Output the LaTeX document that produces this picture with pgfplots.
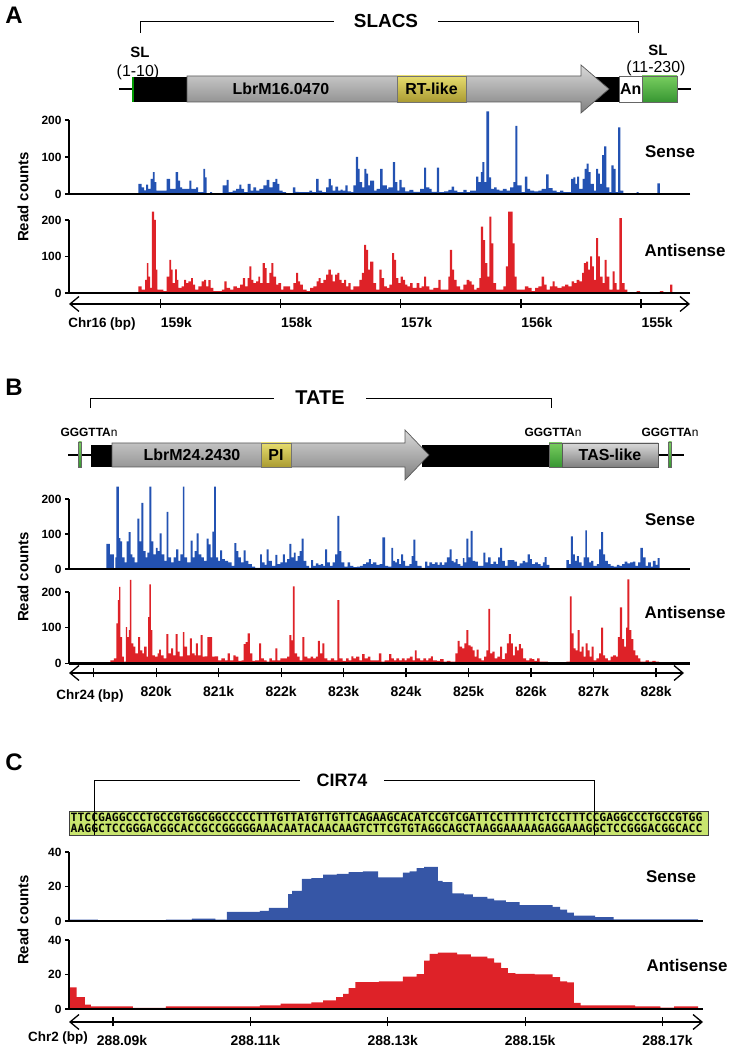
\documentclass[border=0pt]{standalone}
\usepackage{fontspec}
\setmainfont{Liberation Sans}
\newfontfamily\seqfont{DejaVu Sans Mono}
\usepackage{pgfplots}
\pgfplotsset{compat=1.18}
\usetikzlibrary{arrows.meta}
\definecolor{blueA}{RGB}{35,82,178}
\definecolor{blueC}{RGB}{54,86,166}
\definecolor{redA}{RGB}{222,34,40}
\definecolor{grnA}{RGB}{120,205,95}
\definecolor{grnB}{RGB}{55,150,50}
\definecolor{yelA}{RGB}{230,220,110}
\definecolor{yelB}{RGB}{170,155,50}
\definecolor{seqg}{RGB}{200,228,110}
\newcommand\fs[1]{\fontsize{#1}{#1}\selectfont}
\pgfplotsset{
 dataax/.style={scale only axis, width=621bp, clip=false, axis on top, ymin=0,
   axis x line=bottom, axis y line=left, axis line style={-},
   x axis line style={line width=2.4bp}, y axis line style={line width=1.2bp},
   xtick=\empty, tick align=outside, major tick length=4bp,
   ytick style={line width=1.2bp, black},
   yticklabel style={font=\bfseries\fs{12}},
   /pgf/number format/assume math mode=true},
 ruler/.style={scale only axis, height=1bp, ymin=0, ymax=1, hide y axis, clip=false,
   axis x line=bottom,
   x axis line style={line width=1.3bp, {Straight Barb[length=9bp,width=15bp,line width=1.3bp]}-{Straight Barb[length=9bp,width=15bp,line width=1.3bp]}},
   tick align=center, major tick length=9bp, xtick style={line width=1.2bp, black},
   xticklabel style={font=\bfseries\fs{14}, yshift=-5bp}},
}
\tikzset{
 garrow/.style={draw=black!65, line width=0.7bp, top color=black!15, bottom color=black!50},
 gbox/.style={draw=black!60, line width=0.7bp, top color=grnA, bottom color=grnB},
 ybox/.style={draw=black!55, line width=0.7bp, top color=yelA, bottom color=yelB},
}
\begin{document}
\begin{tikzpicture}[x=1bp,y=1bp]
\path[use as bounding box] (0,0) rectangle (731,1050);
% ================= Panel A diagram =================
\node[font=\bfseries\fs{24}] at (14,1035) {A};
\draw[line width=0.9bp] (140,1017) -- (140,1029) -- (334,1029);
\draw[line width=0.9bp] (438,1029) -- (638,1029) -- (638,1017);
\node[font=\bfseries\fs{19}] at (386,1029) {SLACS};
\node[font=\bfseries\fs{15}] at (140,998) {SL};
\node[font=\fs{16}] at (138,978) {(1-10)};
\node[font=\bfseries\fs{15}] at (658,1000) {SL};
\node[font=\fs{16}] at (656,982) {(11-230)};
\draw[line width=2.2bp] (119,961) -- (691,961);
\fill (134,948) rectangle (187,973);
\draw[green!60!black, line width=1.2bp] (133,948) -- (133,973);
\fill (590,948) rectangle (619,973);
\draw[garrow] (187,974) -- (581,974) -- (581,985) -- (609,961) -- (581,937) -- (581,948) -- (187,948) -- cycle;
\draw[ybox] (397,948) rectangle (466,974);
\node[font=\bfseries\fs{16}] at (431.5,961) {RT-like};
\node[font=\bfseries\fs{16}] at (281,961) {LbrM16.0470};
\draw[draw=black!60, line width=0.7bp, fill=white] (619,948) rectangle (642,974);
\node[font=\bfseries\fs{16}, anchor=west, inner sep=0] at (620,961) {An};
\draw[gbox] (642,948) rectangle (677,974);
% ================= Panel B diagram =================
\node[font=\bfseries\fs{24}] at (14,663) {B};
\draw[line width=0.9bp] (90,642) -- (90,652) -- (274,652);
\draw[line width=0.9bp] (366,652) -- (551,652) -- (551,642);
\node[font=\bfseries\fs{20}] at (320,652) {TATE};
\node[font=\fs{12}] at (89,618) {\bfseries GGGTTA\mdseries n};
\node[font=\fs{12}] at (553,618) {\bfseries GGGTTA\mdseries n};
\node[font=\fs{12}] at (670,618) {\bfseries GGGTTA\mdseries n};
\draw[line width=2.2bp] (68,595) -- (684,595);
\fill (91,583) rectangle (112,605);
\fill (422,583) rectangle (549,605);
\draw[garrow] (112,607) -- (405,607) -- (405,620) -- (429,595) -- (405,570) -- (405,583) -- (112,583) -- cycle;
\draw[ybox] (261,583) rectangle (291,607);
\node[font=\bfseries\fs{16}] at (276,595) {PI};
\node[font=\bfseries\fs{16}] at (192,595) {LbrM24.2430};
\draw[gbox] (549,583) rectangle (562,607);
\draw[garrow] (562,583) rectangle (658,607);
\node[font=\bfseries\fs{16}] at (610,595) {TAS-like};
\draw[gbox, line width=0.5bp] (78.5,583) rectangle (81.5,608);
\draw[gbox, line width=0.5bp] (668.5,583) rectangle (671.5,608);
% ================= Panel C diagram =================
\node[font=\bfseries\fs{24}] at (14,288) {C};
\draw[draw=black!75, line width=0.8bp, fill=seqg] (69,215) rectangle (708,239);
\node[font=\seqfont\bfseries\fs{11.45}, anchor=west, inner sep=0] at (70.5,232.5) {TTCCGAGGCCCTGCCGTGGCGGCCCCCTTTGTTATGTTGTTCAGAAGCACATCCGTCGATTCCTTTTTCTCCTTTCCGAGGCCCTGCCGTGG};
\node[font=\seqfont\bfseries\fs{11.45}, anchor=west, inner sep=0] at (70.5,221.5) {AAGGCTCCGGGACGGCACCGCCGGGGGAAACAATACAACAAGTCTTCGTGTAGGCAGCTAAGGAAAAAGAGGAAAGGCTCCGGGACGGCACC};
\draw[line width=0.9bp] (94,215) -- (94,270) -- (300,270);
\draw[line width=0.9bp] (384,270) -- (594,270) -- (594,215);
\node[font=\bfseries\fs{18}] at (342,270) {CIR74};
% ================= labels =================
\node[font=\bfseries\fs{17}] at (670,898) {Sense};
\node[font=\bfseries\fs{17}] at (685,800) {Antisense};
\node[font=\bfseries\fs{17}] at (670,530) {Sense};
\node[font=\bfseries\fs{17}] at (685,438) {Antisense};
\node[font=\bfseries\fs{17}] at (671,173) {Sense};
\node[font=\bfseries\fs{17}] at (687,85) {Antisense};
\node[font=\bfseries\fs{15}, rotate=90] at (23,853) {Read counts};
\node[font=\bfseries\fs{15}, rotate=90] at (23,473) {Read counts};
\node[font=\bfseries\fs{15}, rotate=90] at (23,130) {Read counts};
\node[font=\bfseries\fs{13.5}] at (102,726) {Chr16 (bp)};
\node[font=\bfseries\fs{13.5}] at (90,354) {Chr24 (bp)};
\node[font=\bfseries\fs{13.5}] at (58,12) {Chr2 (bp)};
% ================= Panel A plots (x in kb) =================
\begin{axis}[dataax, at={(69bp,856bp)}, anchor=south west, height=74bp, xmin=154.593, xmax=159.76, x dir=reverse, ymax=200, ytick={0,100,200}]
\addplot[const plot, fill=blueA, draw=none] coordinates {
(159.182,27) (159.155,18) (159.135,10) (159.119,25) (159.102,14) (159.080,41) (159.063,59) (159.047,32) (159.033,9) (158.947,41) (158.919,14) (158.872,59) (158.852,36) (158.836,18) (158.819,14) (158.758,36) (158.741,14) (158.703,18) (158.686,5) (158.642,68) (158.628,45) (158.614,2) (158.586,5) (158.570,0) (158.481,23) (158.448,38) (158.431,5) (158.398,9) (158.370,14) (158.342,25) (158.326,14) (158.303,5) (158.273,27) (158.248,9) (158.226,18) (158.204,9) (158.176,14) (158.143,23) (158.115,38) (158.093,18) (158.065,32) (158.043,41) (158.026,27) (158.009,9) (157.982,5) (157.954,2) (157.898,18) (157.876,6) (157.849,5) (157.760,9) (157.738,5) (157.704,41) (157.682,9) (157.654,5) (157.621,18) (157.599,41) (157.582,23) (157.566,9) (157.544,20) (157.521,9) (157.499,12) (157.483,9) (157.460,23) (157.441,7) (157.413,5) (157.394,23) (157.374,100) (157.355,68) (157.341,32) (157.322,18) (157.302,68) (157.286,55) (157.272,23)
(157.255,36) (157.222,9) (157.200,14) (157.172,68) (157.150,23) (157.116,14) (157.102,18) (157.066,86) (157.047,32) (157.028,9) (157.011,38) (156.992,18) (156.964,7) (156.928,11) (156.894,6) (156.839,14) (156.806,71) (156.789,18) (156.761,14) (156.742,6) (156.700,71) (156.681,5) (156.639,7) (156.603,11) (156.576,20) (156.556,9) (156.528,5) (156.479,11) (156.451,5) (156.423,9) (156.373,47) (156.354,32) (156.334,59) (156.320,86) (156.304,32) (156.287,223) (156.265,45) (156.248,14) (156.223,18) (156.201,12) (156.179,9) (156.151,14) (156.118,9) (156.090,18) (156.063,32) (156.046,184) (156.029,23) (155.993,5) (155.966,47) (155.946,14) (155.924,9) (155.891,7) (155.855,9) (155.827,14) (155.791,53) (155.769,16) (155.735,9) (155.702,5) (155.674,9) (155.647,5) (155.583,41) (155.564,45) (155.547,27) (155.533,47) (155.516,14) (155.486,41) (155.469,68) (155.453,82) (155.436,59) (155.419,27) (155.392,9) (155.375,68) (155.358,55) (155.342,27) (155.325,105) (155.308,129) (155.289,18) (155.264,5) (155.247,77) (155.228,68) (155.211,5) (155.192,180) (155.172,9) (155.148,0) (155.037,5) (155.020,0) (154.865,29) (154.843,0)
} \closedcycle;
\end{axis}
\begin{axis}[dataax, at={(69bp,757bp)}, anchor=south west, height=73bp, xmin=154.593, xmax=159.76, x dir=reverse, ymax=200, ytick={0,100,200}]
\addplot[const plot, fill=redA, draw=none] coordinates {
(159.182,18) (159.155,9) (159.127,36) (159.113,82) (159.099,45) (159.085,14) (159.071,223) (159.052,200) (159.038,64) (159.024,9) (158.974,5) (158.947,45) (158.924,91) (158.911,64) (158.897,27) (158.877,65) (158.863,36) (158.850,14) (158.822,18) (158.802,36) (158.786,27) (158.766,32) (158.744,41) (158.730,23) (158.711,9) (158.683,18) (158.656,32) (158.636,36) (158.619,18) (158.600,35) (158.581,14) (158.558,5) (158.489,9) (158.467,32) (158.448,14) (158.420,9) (158.392,18) (158.364,14) (158.337,23) (158.314,41) (158.295,18) (158.273,41) (158.259,73) (158.242,36) (158.226,27) (158.203,32) (158.184,45) (158.170,27) (158.148,82) (158.131,68) (158.115,27) (158.093,55) (158.076,82) (158.059,45) (158.037,23) (158.018,27) (157.996,9) (157.976,18) (157.921,9) (157.893,27) (157.871,55) (157.854,32) (157.837,23) (157.815,9) (157.782,5) (157.754,14) (157.727,18) (157.699,32) (157.682,41) (157.666,27) (157.643,36) (157.621,50) (157.602,64) (157.582,50) (157.566,32) (157.546,50) (157.527,55) (157.510,36) (157.491,27) (157.471,36) (157.455,18) (157.435,27) (157.416,9) (157.394,18) (157.344,36) (157.324,55) (157.305,132) (157.288,118) (157.272,64)
(157.255,86) (157.227,27) (157.205,9) (157.177,64) (157.158,41) (157.139,18) (157.116,14) (157.094,23) (157.072,109) (157.055,91) (157.039,41) (157.019,27) (157.000,45) (156.983,36) (156.964,23) (156.944,18) (156.922,27) (156.900,14) (156.867,27) (156.845,14) (156.825,18) (156.806,45) (156.789,18) (156.761,9) (156.728,14) (156.687,36) (156.667,9) (156.603,45) (156.590,118) (156.573,64) (156.556,36) (156.534,18) (156.506,9) (156.479,23) (156.451,36) (156.429,32) (156.409,23) (156.390,9) (156.368,14) (156.345,41) (156.332,182) (156.315,145) (156.298,82) (156.279,45) (156.262,209) (156.246,136) (156.229,27) (156.207,9) (156.146,18) (156.124,73) (156.107,223) (156.068,136) (156.052,45) (156.035,9) (155.966,18) (155.938,14) (155.910,5) (155.882,14) (155.855,18) (155.827,45) (155.807,23) (155.785,9) (155.758,18) (155.735,32) (155.719,18) (155.697,14) (155.661,18) (155.633,23) (155.605,18) (155.577,32) (155.558,27) (155.536,36) (155.514,32) (155.491,55) (155.475,82) (155.458,86) (155.441,64) (155.425,100) (155.408,73) (155.392,36) (155.375,150) (155.358,100) (155.342,45) (155.319,27) (155.303,91) (155.286,45) (155.264,9) (155.236,59) (155.220,27) (155.203,9) (155.181,205) (155.159,27) (155.136,9) (155.114,2) (155.037,5) (155.009,0) (154.843,5) (154.815,0) (154.759,23) (154.740,0)
} \closedcycle;
\end{axis}
\begin{axis}[ruler, at={(69bp,746bp)}, anchor=south west, width=621bp, xmin=154.593, xmax=159.76, x dir=reverse, xtick={159,158,157,156,155}, xticklabels={159k,158k,157k,156k,155k}, xticklabel style={anchor=north west, xshift=-3bp}]
\addplot[draw=none] coordinates {(157,0)};
\end{axis}
% ================= Panel B plots (x in kb) =================
\begin{axis}[dataax, at={(69bp,481bp)}, anchor=south west, height=70bp, xmin=818.605, xmax=828.448, ymax=200, ytick={0,100,200}]
\addplot[const plot, fill=blueA, draw=none] coordinates {
(819.197,72) (819.251,42) (819.315,0) (819.341,33) (819.357,235) (819.395,88) (819.421,79) (819.448,33) (819.485,19) (819.517,79) (819.549,105) (819.581,42) (819.608,33) (819.645,19) (819.688,144) (819.720,79) (819.752,189) (819.784,51) (819.821,33) (819.848,47) (819.880,235) (819.912,79) (819.944,42) (819.981,60) (820.008,51) (820.040,102) (820.072,42) (820.115,23) (820.152,163) (820.179,33) (820.222,19) (820.264,33) (820.302,56) (820.339,23) (820.371,42) (820.408,235) (820.435,33) (820.478,19) (820.531,81) (820.563,33) (820.595,51) (820.627,102) (820.659,42) (820.702,33) (820.744,23) (820.787,87) (820.819,70) (820.851,33) (820.878,107) (820.904,235) (820.931,33) (820.968,23) (821.000,53) (821.032,28) (821.075,23) (821.129,19) (821.182,9) (821.225,74) (821.257,51) (821.289,33) (821.331,19) (821.374,53) (821.406,23) (821.449,14) (821.502,7) (821.555,3) (821.635,42) (821.662,19) (821.705,12) (821.737,56) (821.769,23) (821.822,9) (821.875,40) (821.907,14) (821.955,19) (821.993,42) (822.025,19) (822.062,28) (822.099,72) (822.131,33) (822.169,47) (822.196,23) (822.228,37) (822.260,51) (822.292,87) (822.324,23) (822.366,9) (822.409,3) (822.441,25) (822.473,9) (822.516,16) (822.558,12) (822.596,14) (822.633,9) (822.665,56) (822.697,19) (822.740,9) (822.782,19) (822.825,42) (822.857,152) (822.889,51) (822.921,19) (822.969,7) (823.022,19) (823.060,9) (823.113,5) (823.167,7) (823.220,9) (823.263,14) (823.316,19) (823.359,28) (823.391,14)
(823.422,19) (823.475,12) (823.529,14) (823.571,90) (823.614,9) (823.662,7) (823.715,60) (823.742,23) (823.774,19) (823.806,28) (823.838,14) (823.870,42) (823.902,23) (823.934,9) (823.998,14) (824.036,37) (824.062,84) (824.094,23) (824.126,9) (824.196,3) (824.249,21) (824.286,9) (824.318,19) (824.361,14) (824.404,19) (824.446,12) (824.478,19) (824.516,12) (824.553,19) (824.596,33) (824.638,56) (824.670,23) (824.702,19) (824.734,28) (824.766,14) (824.809,9) (824.846,31) (824.873,19) (824.905,87) (824.937,33) (824.969,109) (825.001,23) (825.044,21) (825.086,9) (825.172,47) (825.204,19) (825.247,33) (825.289,14) (825.332,21) (825.375,14) (825.407,33) (825.439,60) (825.471,23) (825.513,9) (825.556,25) (825.609,25) (825.663,21) (825.705,9) (825.748,16) (825.796,23) (825.833,19) (825.876,42) (825.908,28) (825.940,14) (825.993,19) (826.036,14) (826.079,9) (826.116,19) (826.143,34) (826.175,12) (826.218,0) (826.490,25) (826.527,14) (826.559,93) (826.591,42) (826.623,23) (826.655,37) (826.687,19) (826.730,9) (826.762,33) (826.789,110) (826.815,33) (826.847,19) (826.879,23) (826.916,9) (826.970,14) (827.007,56) (827.039,105) (827.071,42) (827.103,23) (827.146,14) (827.189,9) (827.237,7) (827.290,12) (827.327,9) (827.370,14) (827.413,21) (827.455,16) (827.498,19) (827.541,21) (827.583,9) (827.626,19) (827.663,60) (827.701,33) (827.743,9) (827.786,19) (827.829,7) (827.861,23) (827.903,12) (827.935,31) (827.967,0)
} \closedcycle;
\end{axis}
\begin{axis}[dataax, at={(69bp,386.5bp)}, anchor=south west, height=71.5bp, xmin=818.605, xmax=828.448, ymax=200, ytick={0,100,200}]
\addplot[const plot, fill=redA, draw=none] coordinates {
(819.261,9) (819.315,14) (819.357,112) (819.379,177) (819.400,214) (819.421,74) (819.448,19) (819.475,5) (819.507,102) (819.528,74) (819.555,93) (819.571,234) (819.592,56) (819.624,47) (819.656,28) (819.699,74) (819.731,37) (819.768,28) (819.795,47) (819.837,19) (819.859,130) (819.880,221) (819.901,93) (819.928,23) (819.965,19) (820.008,28) (820.035,39) (820.062,23) (820.104,14) (820.147,82) (820.179,28) (820.222,42) (820.254,23) (820.296,82) (820.328,33) (820.360,20) (820.408,88) (820.435,47) (820.478,23) (820.520,70) (820.552,28) (820.595,23) (820.616,56) (820.648,23) (820.691,79) (820.723,19) (820.755,20) (820.798,74) (820.840,74) (820.872,19) (820.915,20) (820.968,9) (821.022,14) (821.075,9) (821.118,28) (821.155,9) (821.209,23) (821.246,19) (821.289,7) (821.342,9) (821.374,54) (821.406,60) (821.438,84) (821.470,28) (821.513,7) (821.555,9) (821.619,56) (821.651,14) (821.694,9) (821.737,5) (821.779,14) (821.822,9) (821.875,42) (821.907,9) (821.955,14) (822.009,14) (822.062,19) (822.099,79) (822.131,65) (822.153,216) (822.180,28) (822.222,19) (822.260,9) (822.302,74) (822.334,19) (822.382,14) (822.436,19) (822.473,14) (822.516,19) (822.548,63) (822.580,28) (822.622,56) (822.654,14) (822.702,9) (822.756,14) (822.809,9) (822.857,177) (822.889,14) (822.943,7) (822.996,14) (823.039,9) (823.081,20) (823.113,14) (823.156,19) (823.209,9) (823.252,26) (823.289,14) (823.343,19) (823.380,9)
(823.422,9) (823.518,28) (823.555,5) (823.609,9) (823.678,26) (823.715,14) (823.753,9) (823.795,14) (823.838,9) (823.881,14) (823.923,9) (823.956,14) (824.009,19) (824.052,9) (824.089,37) (824.116,14) (824.169,9) (824.222,14) (824.265,9) (824.302,14) (824.340,20) (824.372,9) (824.436,7) (824.489,12) (824.542,5) (824.596,7) (824.649,5) (824.729,28) (824.766,63) (824.798,47) (824.836,42) (824.873,56) (824.905,93) (824.937,51) (824.969,47) (825.001,37) (825.033,19) (825.065,39) (825.097,14) (825.140,9) (825.183,19) (825.220,37) (825.252,153) (825.279,28) (825.316,33) (825.353,14) (825.396,19) (825.439,47) (825.471,12) (825.513,28) (825.545,56) (825.577,82) (825.609,56) (825.641,23) (825.673,47) (825.705,37) (825.737,54) (825.769,42) (825.801,14) (825.849,9) (825.903,14) (825.940,12) (825.983,7) (826.025,14) (826.063,5) (826.196,4) (826.250,2) (826.410,4) (826.490,5) (826.543,188) (826.570,84) (826.602,42) (826.634,37) (826.666,93) (826.698,33) (826.730,47) (826.762,19) (826.794,56) (826.826,37) (826.858,19) (826.890,47) (826.922,9) (826.964,14) (827.007,28) (827.039,100) (827.071,23) (827.103,14) (827.146,9) (827.189,19) (827.231,23) (827.274,19) (827.306,74) (827.338,157) (827.370,68) (827.402,47) (827.434,100) (827.455,235) (827.487,93) (827.519,68) (827.551,37) (827.583,23) (827.626,14) (827.663,5) (827.743,9) (827.797,5) (827.850,7) (827.903,5) (827.957,0)
} \closedcycle;
\end{axis}
\begin{axis}[ruler, at={(69bp,377bp)}, anchor=south west, width=615bp, xmin=818.605, xmax=828.448, xtick={819,820,821,822,823,824,825,826,827,828}, xticklabels={,820k,821k,822k,823k,824k,825k,826k,827k,828k}]
\addplot[draw=none] coordinates {(823,0)};
\end{axis}
% ================= Panel C plots (x = position - 288000 bp) =================
\begin{axis}[dataax, at={(69bp,129bp)}, anchor=south west, width=634bp, height=69bp, xmin=83.6, xmax=175.9, ymax=40, ytick={0,20,40}]
\addplot[const plot, fill=blueC, draw=none] coordinates {
(83.7,0.8) (87.8,0.2) (97.7,0.8) (101.5,1.4) (104.9,0.8) (106.6,5.3) (111.4,5.8) (112.7,7.6) (115.5,15.6) (116.1,17.5) (117.5,24.4) (118.9,24.8) (120.6,26.9) (122.6,27.3) (124.3,28.3) (126.4,28.7) (128.6,25.3) (132.2,28) (133.2,28.7) (134.2,30.6) (135.3,31.4) (137.3,23.2) (138.0,22.6) (139.4,16) (141.1,15.4) (142.4,14) (144.5,13) (145.5,12) (147.2,10.9) (149.2,9.2) (154.0,8.2) (155.1,6.6) (156.1,4.9) (157.1,3.1) (160.2,2.3) (162.9,1.0) (175.2,1.0)
} \closedcycle;
\end{axis}
\begin{axis}[dataax, at={(69bp,41bp)}, anchor=south west, width=634bp, height=69bp, xmin=83.6, xmax=175.9, ymax=40, ytick={0,20,40}]
\addplot[const plot, fill=redA, draw=none] coordinates {
(83.7,12.5) (84.7,6.9) (85.9,2.5) (86.8,1.5) (92.9,0.6) (97.7,1.5) (111.4,2.1) (114.4,3.1) (118.9,3.8) (120.6,5) (122.5,6.9) (123.5,8.7) (124.3,12.1) (125.3,15.6) (128.7,16) (132.2,18.8) (134.2,20.2) (135.3,28.1) (136.1,31.9) (137.3,32.7) (140.1,31.7) (142.1,30.4) (144.5,29.4) (145.5,26.9) (146.5,23.7) (147.5,20.8) (148.6,20.4) (151.4,20) (154.0,18.5) (155.1,16) (156.1,15.4) (157.1,3.5) (158.1,2.1) (166.0,1.5) (169.7,0.8) (171.7,1.5) (175.2,1.5)
} \closedcycle;
\end{axis}
\begin{axis}[ruler, at={(69bp,28bp)}, anchor=south west, width=634bp, xmin=83.6, xmax=175.9, xtick={90,110,130,150,170}, xticklabels={\hspace*{8bp}288.09k,288.11k,288.13k,288.15k,288.17k}, xticklabel style={xshift=5bp}]
\addplot[draw=none] coordinates {(130,0)};
\end{axis}
\end{tikzpicture}
\end{document}
